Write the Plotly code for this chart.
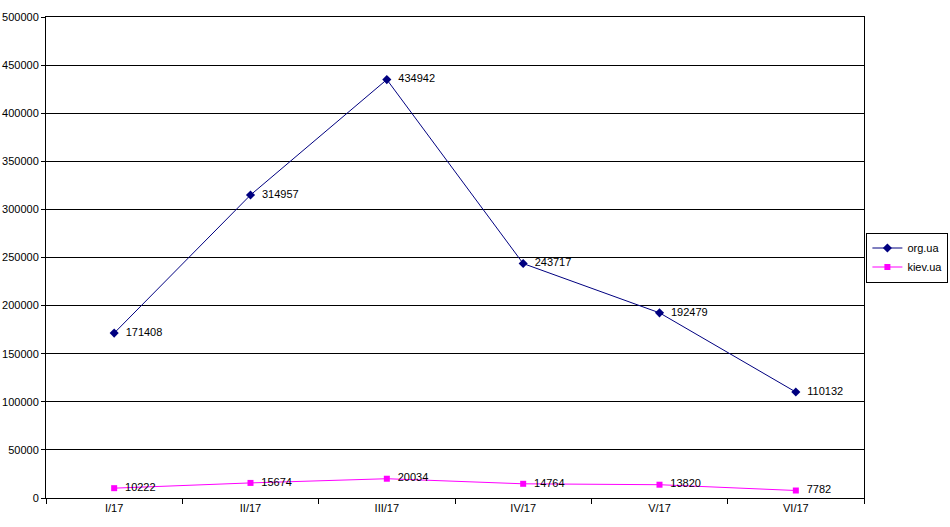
import plotly.graph_objects as go

categories = ["I/17", "II/17", "III/17", "IV/17", "V/17", "VI/17"]
org_ua = [171408, 314957, 434942, 243717, 192479, 110132]
kiev_ua = [10222, 15674, 20034, 14764, 13820, 7782]
y_ticks = list(range(0, 500001, 50000))

font = dict(family="Liberation Sans, Arial, sans-serif", size=11, color="black")

fig = go.Figure()
fig.add_trace(go.Scatter(
    x=categories, y=org_ua, name="org.ua", mode="lines+markers+text",
    line=dict(color="#000080", width=1),
    marker=dict(symbol="diamond", size=7, color="#000080"),
    text=["  " + str(v) for v in org_ua], textposition="middle right",
    textfont=font, cliponaxis=False,
))
fig.add_trace(go.Scatter(
    x=categories, y=kiev_ua, name="kiev.ua", mode="lines+markers+text",
    line=dict(color="#FF00FF", width=1),
    marker=dict(symbol="square", size=6, color="#FF00FF"),
    text=["  " + str(v) for v in kiev_ua], textposition="middle right",
    textfont=font, cliponaxis=False,
))

fig.update_layout(
    width=950, height=527,
    margin=dict(l=46, r=86, t=17, b=29, autoexpand=False),
    paper_bgcolor="white", plot_bgcolor="white",
    font=font,
    showlegend=True,
    legend=dict(xref="container", x=0.912, yref="paper", y=0.5,
                xanchor="left", yanchor="middle",
                bordercolor="black", borderwidth=1, bgcolor="white",
                font=font, itemwidth=30, tracegroupgap=0),
    xaxis=dict(type="category", tickson="boundaries", ticks="outside", ticklen=5,
               tickcolor="black", showline=True, linecolor="black", linewidth=1,
               mirror=True, showgrid=False, tickfont=font, range=[-0.5, 5.5],
               automargin=False),
    yaxis=dict(range=[0, 500000], tickvals=y_ticks, tickformat="d", ticks="outside",
               ticklen=4, tickcolor="black", showline=True, linecolor="black",
               linewidth=1, mirror=True, showgrid=True, gridcolor="black",
               gridwidth=1, zeroline=False, tickfont=font, automargin=False),
    hovermode=False,
)

fig.write_html("out.html", config={"displayModeBar": False},
               post_script="document.body.style.margin='0';document.body.style.overflow='hidden';")
